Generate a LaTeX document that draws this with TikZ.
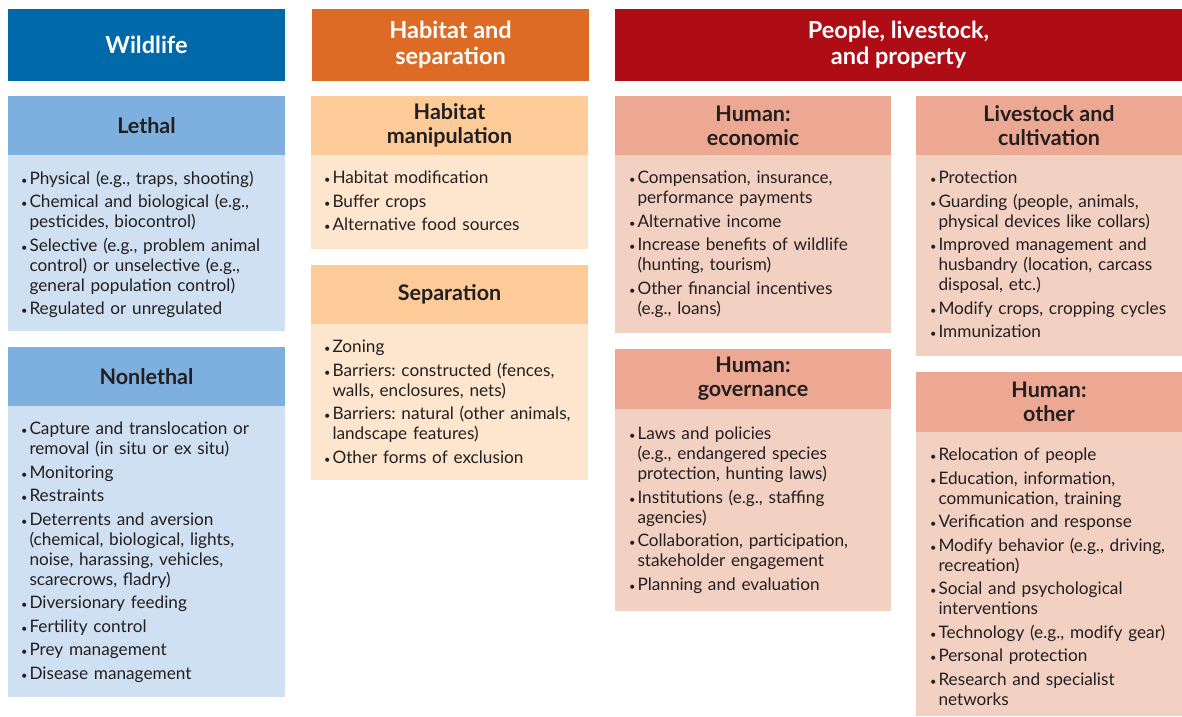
\documentclass[tikz,border=0pt]{standalone}
\usepackage{fontspec}
\setmainfont{Lato}
\usetikzlibrary{positioning}

\definecolor{ink}{HTML}{231F20}
\definecolor{wilddark}{HTML}{0069AA}
\definecolor{wildhead}{HTML}{7DB0DF}
\definecolor{wildbody}{HTML}{CFE0F2}
\definecolor{habdark}{HTML}{DD6B26}
\definecolor{habhead}{HTML}{FCCB98}
\definecolor{habbody}{HTML}{FEE6CE}
\definecolor{peopledark}{HTML}{AF0D16}
\definecolor{peoplehead}{HTML}{ECA892}
\definecolor{peoplebody}{HTML}{F2D1C2}

% one bullet item, later lines hang under the text
\newcommand{\bitem}[1]{\hangindent=8.5pt\hangafter=1\noindent
  \makebox[8.5pt][l]{\fontsize{11}{11}\selectfont\textbullet}#1\par}

\begin{document}
\begin{tikzpicture}[x=1pt, y=-1pt,
    every node/.style={inner sep=0pt, outer sep=0pt},
    colhead/.style={anchor=north west, minimum height=72, text=white, align=center,
      font=\bfseries\fontsize{23.5}{26}\selectfont},
    subhead/.style={anchor=north west, minimum height=59, text=ink, align=center,
      font=\bfseries\fontsize{21.5}{24}\selectfont},
    bodybox/.style={below=0pt of #1, anchor=north},
    itemlist/.style={anchor=north west, text width=#1, align=left, text=ink,
      font=\fontsize{17.2}{20}\selectfont,
      execute at begin node=\setlength{\parskip}{3.5pt}\frenchspacing}]
  \useasboundingbox (0,0) rectangle (1182,716);

  % column titles
  \node[colhead, fill=wilddark, minimum width=277] (wildlife) at (8,9) {Wildlife};
  \node[colhead, fill=habdark, minimum width=277] (habitat) at (312,9) {Habitat and\\separation};
  \node[colhead, fill=peopledark, minimum width=567] (people) at (615,9) {People, livestock,\\and property};

  % Wildlife column
  \node[subhead, fill=wildhead, minimum width=277] (lethal) at (8,96) {Lethal};
  \node[bodybox=lethal, fill=wildbody, minimum width=277, minimum height=176] (lethalbody) {};
  \node[itemlist=265] (lethallist) at ([xshift=13pt, yshift=-16pt]lethalbody.north west) {%
    \bitem{Physical (e.g., traps, shooting)}
    \bitem{Chemical and biological (e.g.,\newline pesticides, biocontrol)}
    \bitem{Selective (e.g., problem animal\newline control) or unselective (e.g.,\newline general population control)}
    \bitem{Regulated or unregulated}};

  \node[subhead, fill=wildhead, minimum width=277] (nonlethal) at (8,347) {Nonlethal};
  \node[bodybox=nonlethal, fill=wildbody, minimum width=277, minimum height=291] (nonlethalbody) {};
  \node[itemlist=265] (nonlethallist) at ([xshift=13pt, yshift=-16pt]nonlethalbody.north west) {%
    \bitem{Capture and translocation or\newline removal (in situ or ex situ)}
    \bitem{Monitoring}
    \bitem{Restraints}
    \bitem{Deterrents and aversion\newline (chemical, biological, lights,\newline noise, harassing, vehicles,\newline scarecrows, fladry)}
    \bitem{Diversionary feeding}
    \bitem{Fertility control}
    \bitem{Prey management}
    \bitem{Disease management}};

  % Habitat column
  \node[subhead, fill=habhead, minimum width=277] (manip) at (311,96) {Habitat\\manipulation};
  \node[bodybox=manip, fill=habbody, minimum width=277, minimum height=94] (manipbody) {};
  \node[itemlist=265] (maniplist) at ([xshift=13pt, yshift=-16pt]manipbody.north west) {%
    \bitem{Habitat modification}
    \bitem{Buffer crops}
    \bitem{Alternative food sources}};

  \node[subhead, fill=habhead, minimum width=277] (separation) at (311,265) {Separation};
  \node[bodybox=separation, fill=habbody, minimum width=277, minimum height=156] (separationbody) {};
  \node[itemlist=265] (separationlist) at ([xshift=13pt, yshift=-16pt]separationbody.north west) {%
    \bitem{Zoning}
    \bitem{Barriers: constructed (fences,\newline walls, enclosures, nets)}
    \bitem{Barriers: natural (other animals,\newline landscape features)}
    \bitem{Other forms of exclusion}};

  % People column, left
  \node[subhead, fill=peoplehead, minimum width=276] (economic) at (615,96) {Human:\\economic};
  \node[bodybox=economic, fill=peoplebody, minimum width=276, minimum height=178] (economicbody) {};
  \node[itemlist=265] (economiclist) at ([xshift=14pt, yshift=-16pt]economicbody.north west) {%
    \bitem{Compensation, insurance,\newline performance payments}
    \bitem{Alternative income}
    \bitem{Increase benefits of wildlife\newline (hunting, tourism)}
    \bitem{Other financial incentives\newline (e.g., loans)}};

  \node[subhead, fill=peoplehead, minimum width=276, minimum height=60] (governance) at (615,349) {Human:\\governance};
  \node[bodybox=governance, fill=peoplebody, minimum width=276, minimum height=202] (governancebody) {};
  \node[itemlist=265] (governancelist) at ([xshift=14pt, yshift=-18pt]governancebody.north west) {%
    \bitem{Laws and policies\newline (e.g., endangered species\newline protection, hunting laws)}
    \bitem{Institutions (e.g., staffing\newline agencies)}
    \bitem{Collaboration, participation,\newline stakeholder engagement}
    \bitem{Planning and evaluation}};

  % People column, right
  \node[subhead, fill=peoplehead, minimum width=266] (livestock) at (916,96) {Livestock and\\cultivation};
  \node[bodybox=livestock, fill=peoplebody, minimum width=266, minimum height=201] (livestockbody) {};
  \node[itemlist=255] (livestocklist) at ([xshift=14pt, yshift=-16pt]livestockbody.north west) {%
    \bitem{Protection}
    \bitem{Guarding (people, animals,\newline physical devices like collars)}
    \bitem{Improved management and\newline husbandry (location, carcass\newline disposal, etc.)}
    \bitem{Modify crops, cropping cycles}
    \bitem{Immunization}};

  \node[subhead, fill=peoplehead, minimum width=266, minimum height=60] (other) at (916,372) {Human:\\other};
  \node[bodybox=other, fill=peoplebody, minimum width=266, minimum height=284] (otherbody) {};
  \node[itemlist=255] (otherlist) at ([xshift=14pt, yshift=-16pt]otherbody.north west) {%
    \bitem{Relocation of people}
    \bitem{Education, information,\newline communication, training}
    \bitem{Verification and response}
    \bitem{Modify behavior (e.g., driving,\newline recreation)}
    \bitem{Social and psychological\newline interventions}
    \bitem{Technology (e.g., modify gear)}
    \bitem{Personal protection}
    \bitem{Research and specialist\newline networks}};
\end{tikzpicture}
\end{document}
